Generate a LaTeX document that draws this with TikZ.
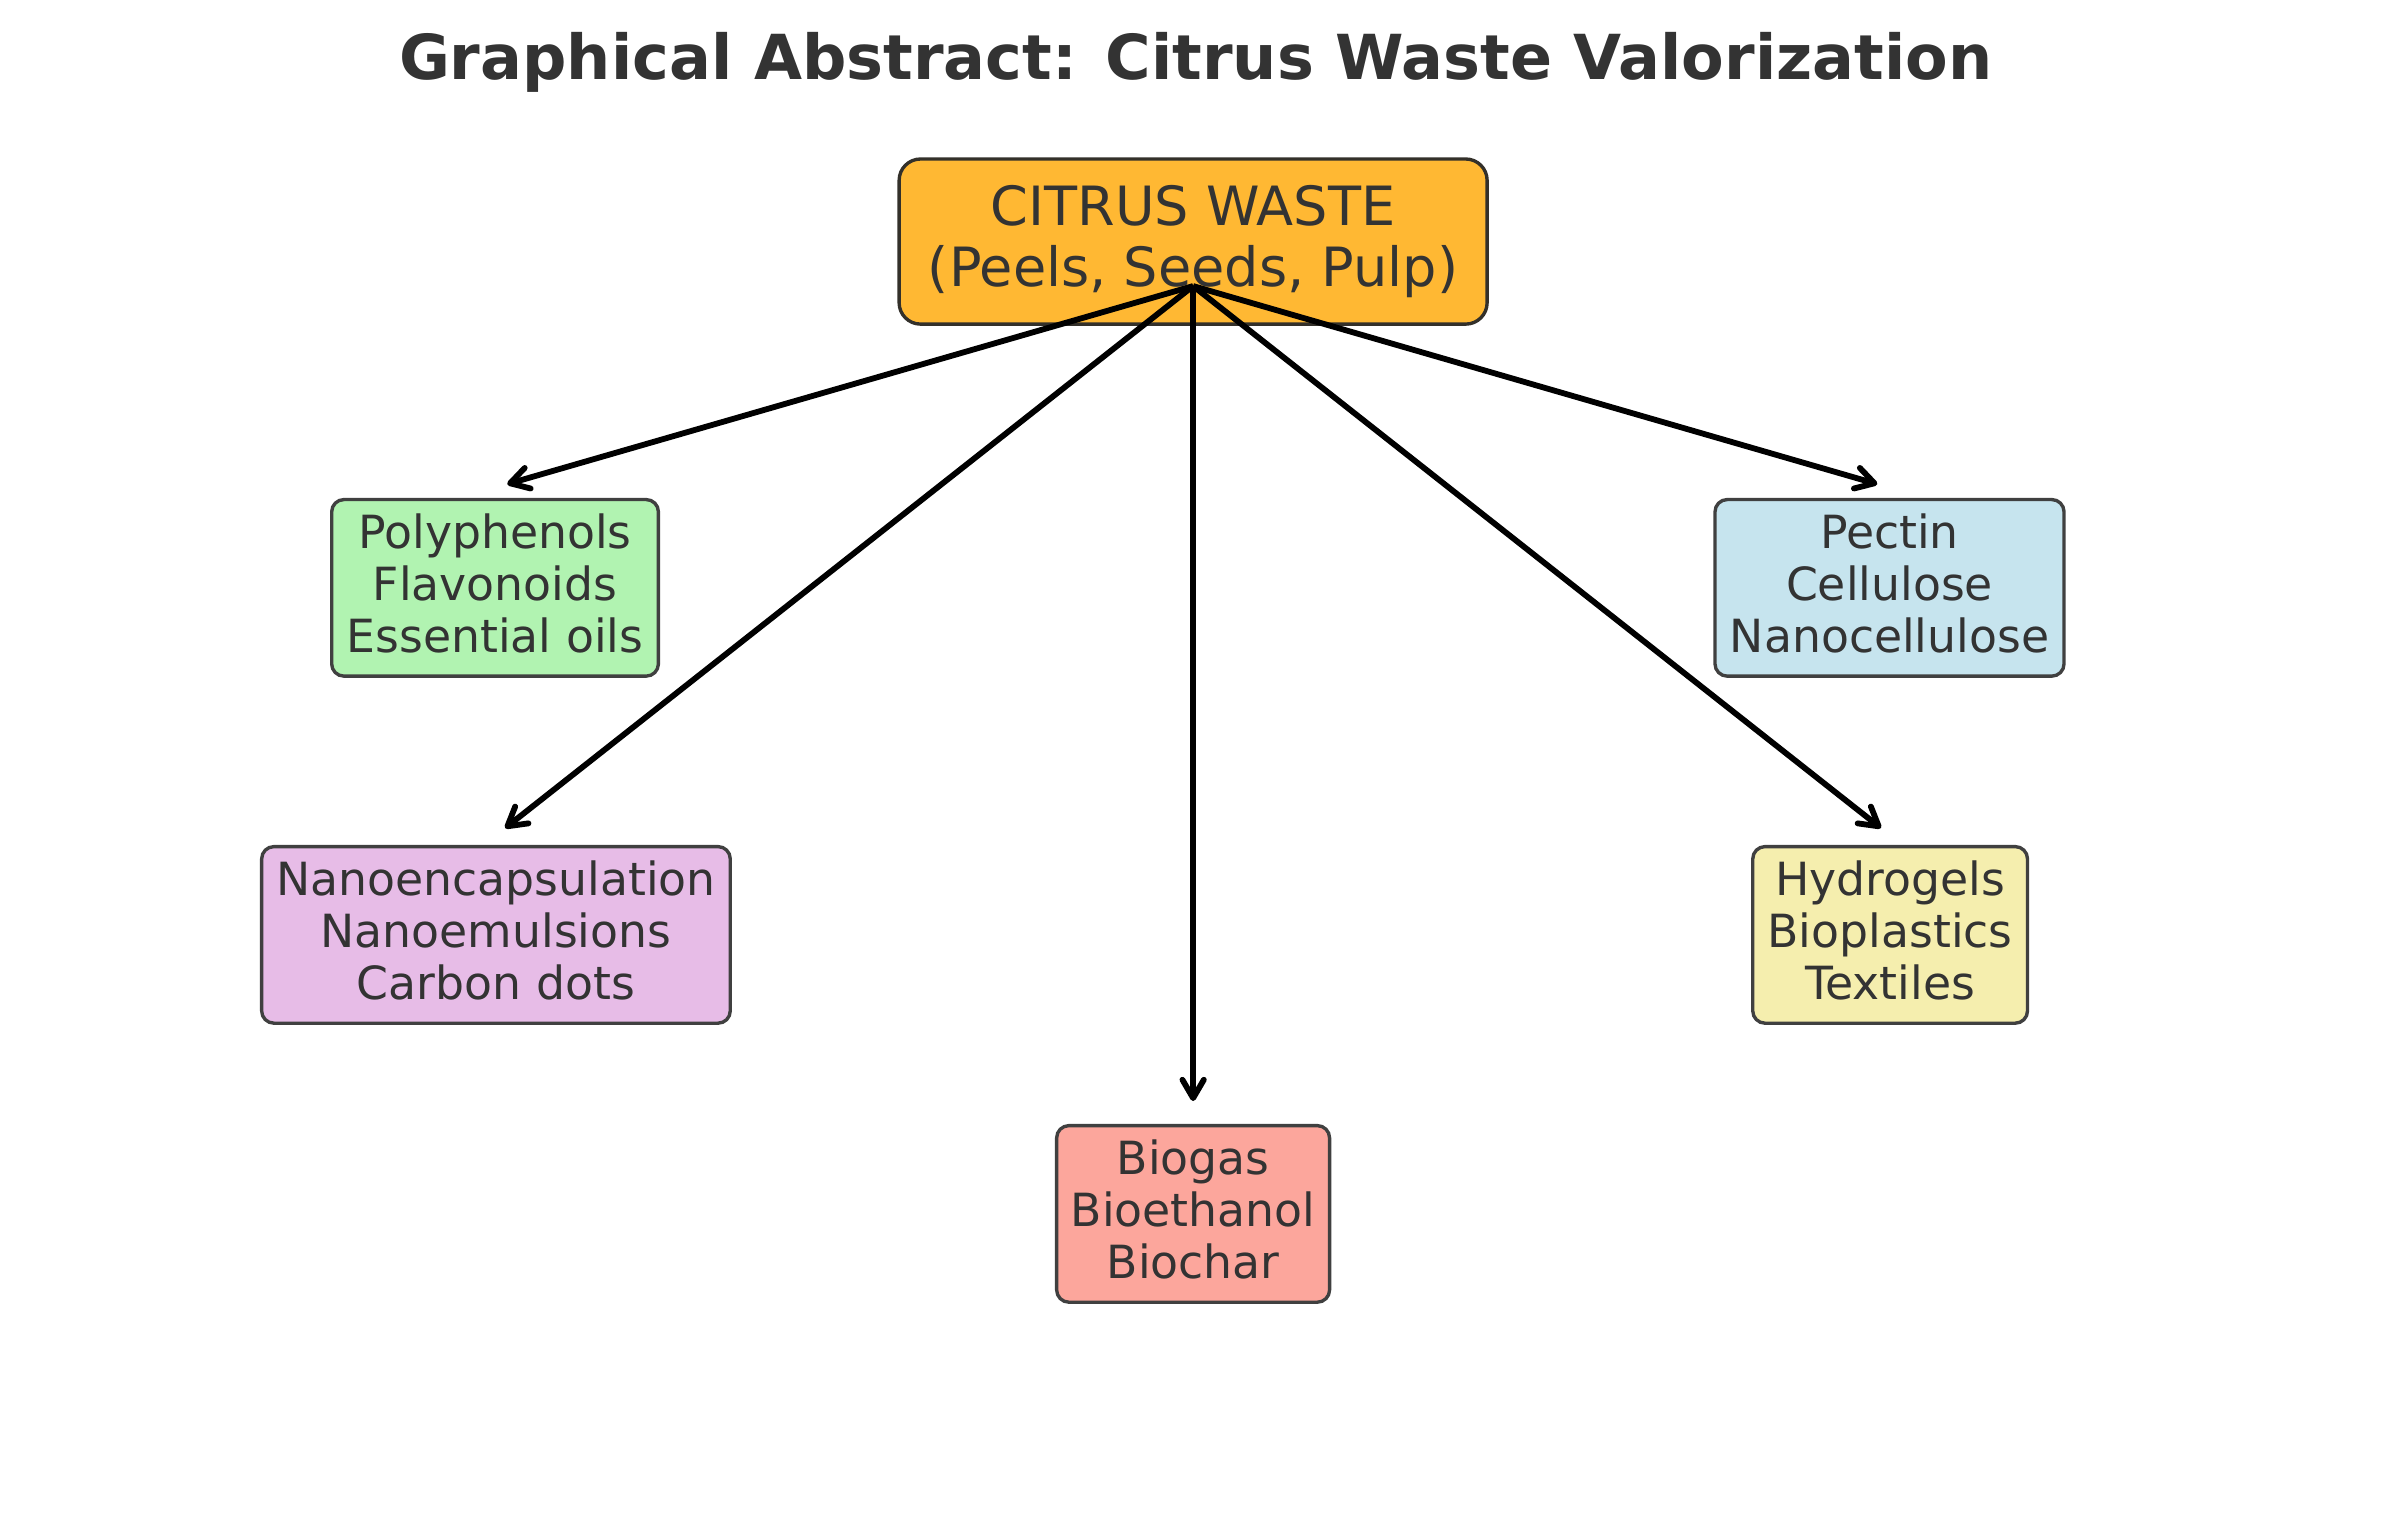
\documentclass[tikz,border=0pt]{standalone}
\usepackage{fontspec}
\setmainfont{DejaVu Sans}
\usetikzlibrary{arrows.meta,calc}
\definecolor{txt}{HTML}{333333}
\definecolor{edgegray}{HTML}{404040}
\definecolor{cedge}{HTML}{33302A}
\definecolor{corange}{HTML}{FFB833}
\definecolor{cgreen}{HTML}{B1F3B1}
\definecolor{cblue}{HTML}{C6E4EE}
\definecolor{cplum}{HTML}{E7BCE7}
\definecolor{ckhaki}{HTML}{F5EEAE}
\definecolor{csalmon}{HTML}{FCA69C}
\begin{document}
\begin{tikzpicture}[x=1pt,y=-1pt,
  box/.style={draw=edgegray, line width=2.2pt, rounded corners=8pt, text=txt,
    align=center, minimum height=115.5pt, inner sep=0pt,
    font=\fontsize{29.9}{34}\selectfont},
  flow/.style={draw=black, line width=3.8pt,
    -{Straight Barb[length=12pt,width=14pt,round]}}]
\useasboundingbox (0,0) rectangle (1560,992.9);
\node[font=\fontsize{40.6}{48}\selectfont\bfseries, text=txt, anchor=base] (title) at (782,52)
  {Graphical Abstract: Citrus Waste Valorization};
\node[box, fill=corange, draw=cedge, rounded corners=14pt, minimum width=384.6pt,
  minimum height=108pt, font=\fontsize{35.4}{39.3}\selectfont] (waste) at (780.4,158)
  {CITRUS WASTE\\(Peels, Seeds, Pulp)};
\node[box, fill=cgreen, minimum width=213.7pt] (green) at (323.8,384.5)
  {Polyphenols\\Flavonoids\\Essential oils\vphantom{p}};
\node[box, fill=cblue, minimum width=228.3pt] (blue) at (1235.9,384.5)
  {Pectin\\Cellulose\\Nanocellulose\vphantom{p}};
\node[box, fill=cplum, minimum width=306.5pt] (plum) at (324.4,611.5)
  {Nanoencapsulation\\Nanoemulsions\\Carbon dots\vphantom{p}};
\node[box, fill=ckhaki, minimum width=179.7pt] (khaki) at (1236.3,611.5)
  {Hydrogels\\Bioplastics\\Textiles\vphantom{p}};
\node[box, fill=csalmon, minimum width=178.5pt] (salmon) at (780.4,794)
  {Biogas\\Bioethanol\\Biochar\vphantom{p}};
\coordinate (src) at ($(waste.south)+(0,-26)$);
\draw[flow] (src) -- ($(green.north)+(8,-9)$);
\draw[flow] (src) -- ($(plum.north)+(6,-11)$);
\draw[flow] (src) -- ($(salmon.north)+(0,-15)$);
\draw[flow] (src) -- ($(khaki.north)+(-6,-11)$);
\draw[flow] (src) -- ($(blue.north)+(-8,-9)$);
\end{tikzpicture}
\end{document}
